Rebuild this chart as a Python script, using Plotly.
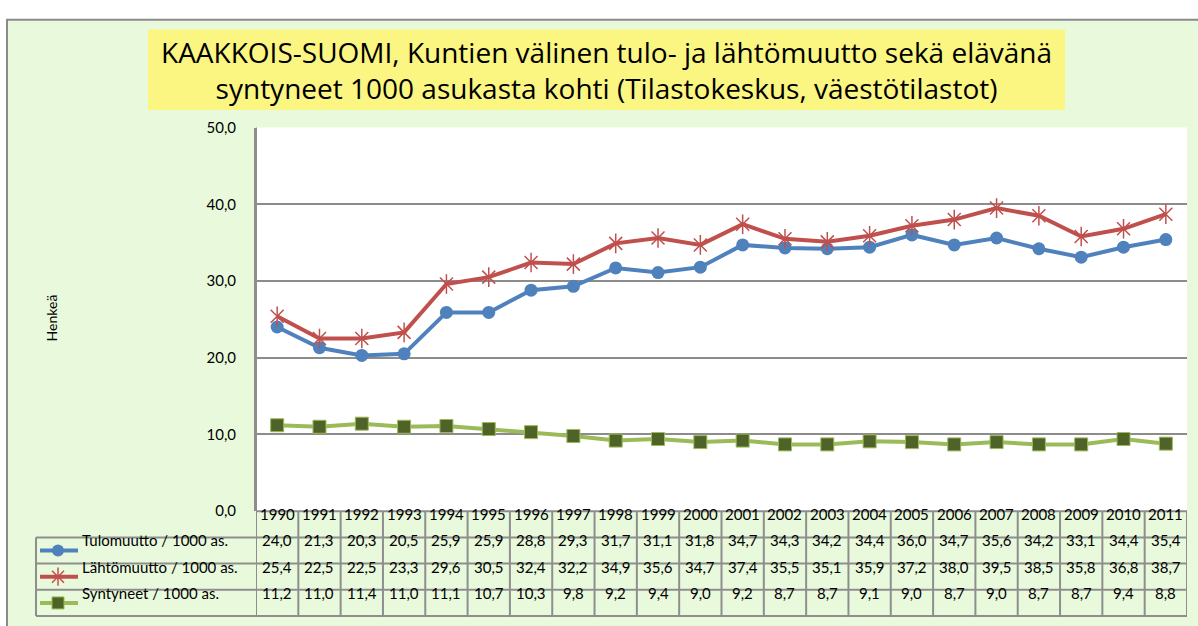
import plotly.graph_objects as go

years = [str(y) for y in range(1990, 2012)]
tulo = [24.0, 21.3, 20.3, 20.5, 25.9, 25.9, 28.8, 29.3, 31.7, 31.1, 31.8, 34.7,
        34.3, 34.2, 34.4, 36.0, 34.7, 35.6, 34.2, 33.1, 34.4, 35.4]
lahto = [25.4, 22.5, 22.5, 23.3, 29.6, 30.5, 32.4, 32.2, 34.9, 35.6, 34.7, 37.4,
         35.5, 35.1, 35.9, 37.2, 38.0, 39.5, 38.5, 35.8, 36.8, 38.7]
synt = [11.2, 11.0, 11.4, 11.0, 11.1, 10.7, 10.3, 9.8, 9.2, 9.4, 9.0, 9.2,
        8.7, 8.7, 9.1, 9.0, 8.7, 9.0, 8.7, 8.7, 9.4, 8.8]
series_names = ["Tulomuutto / 1000 as.", "Lähtömuutto / 1000 as.", "Syntyneet / 1000 as."]
y_tick_vals = [0, 10, 20, 30, 40, 50]
title_lines = ["KAAKKOIS-SUOMI, Kuntien välinen tulo- ja lähtömuutto sekä elävänä",
               "syntyneet 1000 asukasta kohti (Tilastokeskus, väestötilastot)"]
y_title = "Henkeä"

W, H = 1198, 626
FONT = "Lato"
TFONT = "Open Sans"
BLUE, RED, GREEN, DKGREEN = "#4F81BD", "#C0504D", "#9BBB59", "#4F6228"
BG = "#E9FADC"
GRID = "#8C8C8C"
BORDER = "#8E8E8E"

def px(x):
    return x / W

def py(y):
    return 1 - y / H

PL, PR, PT, PB = 256, 1187, 121, 516
ROWS = [516, 543, 570, 597, 624]
LEG_L = 36

def fmt(v):
    return f"{v:.1f}".replace(".", ",")

fig = go.Figure()

fig.add_trace(go.Scatter(x=years, y=tulo, mode="lines+markers", name=series_names[0],
                         line=dict(color=BLUE, width=4),
                         marker=dict(symbol="circle", size=13, color=BLUE),
                         showlegend=False))
fig.add_trace(go.Scatter(x=years, y=lahto, mode="lines+markers", name=series_names[1],
                         line=dict(color=RED, width=4),
                         marker=dict(symbol="x-thin-open", size=13, color=RED,
                                     line=dict(color=RED, width=1.5)),
                         showlegend=False))
fig.add_trace(go.Scatter(x=years, y=lahto, mode="markers", hoverinfo="skip",
                         marker=dict(symbol="line-ns-open", size=14, color=RED,
                                     line=dict(color=RED, width=1.5)),
                         showlegend=False))
fig.add_trace(go.Scatter(x=years, y=synt, mode="lines+markers", name=series_names[2],
                         line=dict(color=GREEN, width=4),
                         marker=dict(symbol="square", size=13, color=DKGREEN,
                                     line=dict(color=GREEN, width=1)),
                         showlegend=False))

row_centers = [(ROWS[i + 1] + ROWS[i + 2]) / 2 for i in range(3)]
key_specs = [
    (BLUE, dict(symbol="circle", size=12, color=BLUE)),
    (RED, dict(symbol="x-thin-open", size=12, color=RED, line=dict(color=RED, width=1.5))),
    (GREEN, dict(symbol="square", size=12, color=DKGREEN, line=dict(color=GREEN, width=1))),
]
for (col, mk), yc in zip(key_specs, row_centers):
    fig.add_trace(go.Scatter(x=[40, 58, 78], y=[yc, yc, yc], mode="lines",
                             line=dict(color=col, width=4), xaxis="x2", yaxis="y2",
                             hoverinfo="skip", showlegend=False))
    fig.add_trace(go.Scatter(x=[58], y=[yc], mode="markers", marker=mk,
                             xaxis="x2", yaxis="y2", hoverinfo="skip", showlegend=False))
fig.add_trace(go.Scatter(x=[58], y=[row_centers[1]], mode="markers",
                         marker=dict(symbol="line-ns-open", size=13, color=RED,
                                     line=dict(color=RED, width=1.5)),
                         xaxis="x2", yaxis="y2", hoverinfo="skip", showlegend=False))

shapes = []
shapes.append(dict(type="rect", xref="paper", yref="paper", x0=px(7), x1=px(W + 20),
                   y0=py(10), y1=py(H + 20), fillcolor=BG,
                   line=dict(color="#8A8A8A", width=2), layer="below"))
shapes.append(dict(type="rect", xref="paper", yref="paper", x0=px(148), x1=px(1065),
                   y0=py(20), y1=py(103), fillcolor="#FBF682", line=dict(width=0),
                   layer="below"))
shapes.append(dict(type="rect", xref="paper", yref="paper", x0=px(PL), x1=px(PR),
                   y0=py(PB), y1=py(PT), fillcolor="white", line=dict(width=0),
                   layer="below"))
for i, yy in enumerate(ROWS):
    x0 = PL if i == 0 else LEG_L
    shapes.append(dict(type="line", xref="paper", yref="paper", x0=px(x0), x1=px(PR),
                       y0=py(yy), y1=py(yy), line=dict(color=BORDER, width=2)))
shapes.append(dict(type="line", xref="paper", yref="paper", x0=px(LEG_L), x1=px(LEG_L),
                   y0=py(ROWS[1]), y1=py(ROWS[-1]), line=dict(color=BORDER, width=2)))
for i in range(len(years) + 1):
    shapes.append(dict(type="line", xref="x", yref="paper", x0=i - 0.5, x1=i - 0.5,
                       y0=py(ROWS[0] if i > 0 else PT), y1=py(ROWS[-1]),
                       line=dict(color=BORDER, width=2)))

annotations = []
annotations.append(dict(text="<br>".join(title_lines), xref="paper", yref="paper",
                        x=px(606), y=py(62), showarrow=False, align="center",
                        font=dict(family=TFONT, size=28, color="black"),
                        xanchor="center", yanchor="middle"))
annotations.append(dict(text=y_title, xref="paper", yref="paper", x=px(41), y=py(317),
                        showarrow=False, textangle=-90,
                        font=dict(family=FONT, size=14, color="black")))
hc = (ROWS[0] + ROWS[1]) / 2
for i, yr in enumerate(years):
    annotations.append(dict(text=yr, xref="x", yref="paper", x=i, y=py(hc + 1),
                            showarrow=False, font=dict(family=FONT, size=15, color="black")))
for name, vals, yc in zip(series_names, [tulo, lahto, synt], row_centers):
    annotations.append(dict(text=name, xref="paper", yref="paper", x=px(80), y=py(yc + 1),
                            xanchor="left", showarrow=False,
                            font=dict(family=FONT, size=15, color="black")))
    for i, v in enumerate(vals):
        annotations.append(dict(text=fmt(v), xref="x", yref="paper", x=i, y=py(yc + 1),
                                showarrow=False, font=dict(family=FONT, size=15, color="black")))

fig.update_layout(
    width=W, height=H,
    margin=dict(l=0, r=0, t=0, b=0),
    paper_bgcolor="white",
    plot_bgcolor="rgba(0,0,0,0)",
    shapes=shapes,
    annotations=annotations,
    xaxis=dict(domain=[px(PL), px(PR)], type="category", range=[-0.5, 21.5],
               showticklabels=False, showgrid=False, zeroline=False, showline=False,
               fixedrange=True),
    yaxis=dict(domain=[py(PB), py(PT)], range=[0, 50], tickvals=y_tick_vals,
               ticktext=[fmt(v) for v in y_tick_vals], showgrid=True, gridcolor=GRID,
               gridwidth=1.5, zeroline=False, showline=True, linecolor=BORDER, linewidth=2,
               ticks="", ticklabelstandoff=15,
               tickfont=dict(family=FONT, size=15, color="black"), fixedrange=True),
    xaxis2=dict(domain=[0, 1], range=[0, W], anchor="y2", visible=False, fixedrange=True),
    yaxis2=dict(domain=[0, 1], range=[H, 0], anchor="x2", visible=False, fixedrange=True),
    showlegend=False,
)

fig.write_html("out.html", config={"displayModeBar": False},
               post_script="document.body.style.margin='0';document.body.style.overflow='hidden';")
